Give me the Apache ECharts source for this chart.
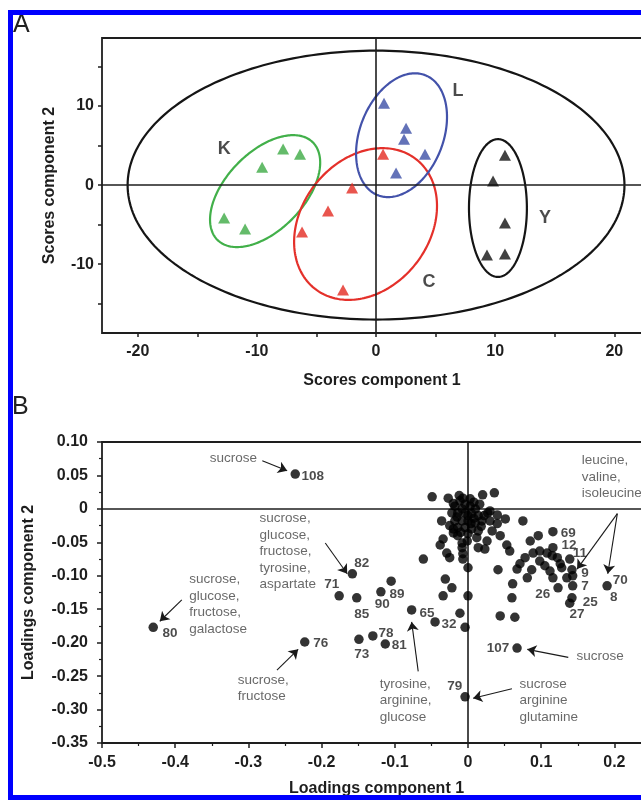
<!DOCTYPE html>
<html>
<head>
<meta charset="utf-8">
<script src="https://cdn.jsdelivr.net/npm/echarts@6/dist/echarts.min.js"></script>
<style>html,body{margin:0;padding:0;background:#fff}#c{width:641px;height:800px}</style>
</head>
<body>
<div id="c"></div>
<script>
// ---------- Panel A data (scores) ----------
const scoreTicksX = [-20, -15, -10, -5, 0, 5, 10, 15, 20];
const scoreLabelsX = [-20, -10, 0, 10, 20];
const scoreTicksY = [-15, -10, -5, 0, 5, 10, 15];
const scoreLabelsY = [-10, 0, 10];

const groupK = [[-7.80, 4.55], [-6.38, 3.91], [-9.56, 2.27], [-12.75, -4.17], [-10.99, -5.56]];
const groupC = [[0.59, 3.91], [-2.01, -0.38], [-4.03, -3.28], [-6.21, -5.93], [-2.77, -13.26]];
const groupL = [[0.67, 10.35], [2.52, 7.20], [2.35, 5.81], [4.11, 3.91], [1.68, 1.52]];
const groupY = [[10.82, 3.79], [9.82, 0.51], [10.82, -4.80], [9.31, -8.84], [10.82, -8.71]];

// confidence ellipses: centre and two conjugate semi-axis vectors (data units)
const ellipseAll = { c: [0, 0], u: [20.85, 0], v: [0, 17.0] };
const ellipseK = { c: [-9.31, -0.76], u: [3.98, 6.20], v: [2.35, -3.41] };
const ellipseC = { c: [-0.88, -4.92], u: [4.23, 8.21], v: [4.25, -4.96] };
const ellipseL = { c: [2.14, 6.31], u: [2.00, 7.58], v: [3.25, -1.95] };
const ellipseY = { c: [10.23, -2.90], u: [0, 8.71], v: [2.43, 0] };

const groupNames = ['K', 'L', 'C', 'Y'];
const groupNamePos = [[-12.75, 4.55], [6.88, 11.87], [4.45, -12.25], [14.18, -4.17]];

// ---------- Panel B data (loadings) ----------
const loadings = [
  [-0.236, 0.052], [-0.430, -0.177], [-0.223, -0.199], [-0.158, -0.097], [-0.176, -0.130],
  [-0.152, -0.133], [-0.119, -0.124], [-0.105, -0.108], [-0.149, -0.195], [-0.130, -0.190],
  [-0.113, -0.202], [-0.077, -0.151], [-0.045, -0.169], [-0.011, -0.156], [-0.004, -0.177],
  [-0.004, -0.281], [0.067, -0.208], [0.044, -0.160], [0.064, -0.162],
  [-0.049, 0.018], [-0.027, 0.016], [0.020, 0.021], [0.036, 0.024], [0.016, 0.007],
  [-0.036, -0.018], [0.051, -0.015], [0.075, -0.018], [0.040, -0.022], [0.033, -0.033],
  [0.044, -0.040], [-0.020, -0.036], [-0.014, -0.040], [0.000, -0.037], [0.012, -0.043],
  [-0.034, -0.045], [-0.038, -0.054], [-0.029, -0.066], [-0.025, -0.073], [-0.008, -0.058],
  [-0.007, -0.067], [0.014, -0.058], [0.023, -0.060], [0.053, -0.054], [0.057, -0.063],
  [-0.061, -0.075], [-0.007, -0.075], [0.000, -0.088], [0.041, -0.091], [0.085, -0.048],
  [0.096, -0.040], [0.116, -0.034], [0.089, -0.066], [0.098, -0.063], [0.108, -0.066],
  [0.116, -0.058], [0.115, -0.070], [0.122, -0.073], [0.126, -0.082], [0.139, -0.075],
  [0.078, -0.073], [0.071, -0.082], [0.067, -0.090], [0.087, -0.091], [0.081, -0.103],
  [0.098, -0.078], [0.105, -0.085], [0.112, -0.093], [0.116, -0.103], [0.128, -0.088],
  [0.142, -0.091], [0.135, -0.103], [0.143, -0.100], [0.143, -0.115], [0.123, -0.118],
  [0.061, -0.112], [0.060, -0.133], [-0.031, -0.105], [-0.022, -0.118], [-0.034, -0.130],
  [0.000, -0.130], [0.142, -0.133], [0.139, -0.141], [0.190, -0.115],
  [-0.018, 0.004], [-0.011, 0.012], [-0.004, 0.007], [0.003, 0.004], [0.010, 0.000],
  [-0.022, -0.006], [-0.014, -0.006], [-0.004, -0.006], [0.005, -0.007], [0.014, -0.010],
  [-0.018, -0.018], [-0.008, -0.018], [0.000, -0.018], [0.010, -0.021], [0.019, -0.018],
  [-0.014, -0.028], [-0.004, -0.028], [0.005, -0.030], [0.027, -0.006], [0.030, -0.018],
  [0.014, -0.033], [-0.025, -0.025], [-0.007, 0.016], [0.003, 0.015], [-0.001, -0.048],
  [-0.008, -0.051], [0.026, -0.048], [0.030, -0.003], [0.040, -0.009],
  [-0.020, 0.008], [-0.008, 0.000], [0.008, 0.010], [-0.015, -0.012], [0.000, -0.010],
  [0.008, -0.014], [-0.010, -0.035], [0.004, -0.022], [0.018, -0.026], [-0.020, -0.030],
  [0.022, -0.010], [-0.012, 0.020]
];
const pointNumbers = [
  ['108', -0.212, 0.049], ['80', -0.407, -0.186], ['76', -0.201, -0.201], ['82', -0.145, -0.082],
  ['71', -0.186, -0.112], ['85', -0.145, -0.157], ['90', -0.117, -0.142], ['89', -0.097, -0.127],
  ['73', -0.145, -0.217], ['78', -0.112, -0.186], ['81', -0.094, -0.204], ['65', -0.056, -0.156],
  ['32', -0.026, -0.172], ['79', -0.018, -0.265], ['107', 0.041, -0.208], ['69', 0.137, -0.037],
  ['12', 0.138, -0.055], ['11', 0.153, -0.067], ['9', 0.160, -0.097], ['7', 0.160, -0.115],
  ['25', 0.167, -0.139], ['27', 0.149, -0.157], ['26', 0.102, -0.127], ['70', 0.208, -0.106],
  ['8', 0.199, -0.132]
];
const annotations = [
  ['sucrose', -0.352, 0.076],
  ['sucrose,\nglucose,\nfructose,\ntyrosine,\naspartate', -0.284, -0.015],
  ['sucrose,\nglucose,\nfructose,\ngalactose', -0.380, -0.106],
  ['sucrose,\nfructose', -0.314, -0.256],
  ['tyrosine,\narginine,\nglucose', -0.120, -0.262],
  ['sucrose\narginine\nglutamine', 0.071, -0.262],
  ['sucrose', 0.149, -0.220],
  ['leucine,\nvaline,\nisoleucine', 0.156, 0.072]
];
const arrows = [
  [-0.281, 0.072, -0.247, 0.057],
  [-0.195, -0.051, -0.165, -0.097],
  [-0.391, -0.136, -0.421, -0.168],
  [-0.261, -0.241, -0.232, -0.210],
  [-0.068, -0.243, -0.077, -0.169],
  [0.060, -0.269, 0.007, -0.283],
  [0.137, -0.222, 0.081, -0.210],
  [0.204, -0.007, 0.149, -0.090],
  [0.204, -0.007, 0.191, -0.097]
];

// ---------- styles ----------
const FONT = '"Liberation Sans", Arial, Helvetica, sans-serif';
const INK = '#1e1e1e';
const colK = '#3daa45', colC = '#e42a22', colL = '#3c4fa6', colY = '#111111';
const ellipseList = [ellipseAll, ellipseK, ellipseC, ellipseL, ellipseY];
const ellipseColors = ['#151515', '#42b04a', '#e4302a', '#4352aa', '#151515'];

const chart = echarts.init(document.getElementById('c'), null, { renderer: 'canvas' });

const tickLabelStyle = { color: INK, fontWeight: 'bold', fontSize: 16, fontFamily: FONT };
const nameStyle = { color: INK, fontWeight: 'bold', fontSize: 16, fontFamily: FONT };

function triSeries(data, color) {
  return {
    type: 'scatter', xAxisIndex: 0, yAxisIndex: 0, data: data,
    symbol: 'triangle', symbolSize: [12, 11], itemStyle: { color: color }, z: 5, silent: true
  };
}

const zeroLine = {
  silent: true, symbol: 'none', label: { show: false }, animation: false,
  lineStyle: { color: INK, type: 'solid', width: 1.6 },
  data: [{ xAxis: 0 }, { yAxis: 0 }]
};

const option = {
  animation: false,
  backgroundColor: '#fff',
  grid: [
    { left: 102, top: 38, width: 560, height: 295, show: true, borderColor: INK, borderWidth: 1.8,
      backgroundColor: 'transparent', containLabel: false, outerBoundsMode: 'none' },
    { left: 102, top: 442, width: 549, height: 301, show: true, borderColor: INK, borderWidth: 1.8,
      backgroundColor: 'transparent', containLabel: false, outerBoundsMode: 'none' }
  ],
  xAxis: [
    {
      gridIndex: 0, type: 'value', min: -23, max: 24, position: 'bottom',
      axisLine: { show: false, onZero: false },
      axisTick: { show: true, length: 4, customValues: scoreTicksX, lineStyle: { color: INK, width: 1.5 } },
      axisLabel: { customValues: scoreLabelsX, margin: 11, ...tickLabelStyle },
      splitLine: { show: false },
      name: 'Scores component 1', nameLocation: 'middle', nameGap: 40, nameTextStyle: nameStyle
    },
    {
      gridIndex: 1, type: 'value', min: -0.5, max: 0.25, interval: 0.1, position: 'bottom',
      axisLine: { show: false, onZero: false },
      axisTick: { show: true, length: 5, lineStyle: { color: INK, width: 1.5 } },
      minorTick: { show: true, splitNumber: 2, length: 3, lineStyle: { color: INK, width: 1.2 } },
      axisLabel: {
        margin: 12, ...tickLabelStyle, showMaxLabel: false,
        formatter: v => Math.abs(v) < 1e-9 ? '0' : String(+v.toFixed(1))
      },
      splitLine: { show: false },
      name: 'Loadings component 1', nameLocation: 'middle', nameGap: 38, nameTextStyle: nameStyle
    }
  ],
  yAxis: [
    {
      gridIndex: 0, type: 'value', min: -18.7, max: 18.6, position: 'left',
      axisLine: { show: false, onZero: false },
      axisTick: { show: true, length: 4, customValues: scoreTicksY, lineStyle: { color: INK, width: 1.5 } },
      axisLabel: { customValues: scoreLabelsY, margin: 8, ...tickLabelStyle },
      splitLine: { show: false },
      name: 'Scores component 2', nameLocation: 'middle', nameGap: 44, nameTextStyle: nameStyle
    },
    {
      gridIndex: 1, type: 'value', min: -0.35, max: 0.10, interval: 0.05, position: 'left',
      axisLine: { show: false, onZero: false },
      axisTick: { show: true, length: 5, lineStyle: { color: INK, width: 1.5 } },
      minorTick: { show: true, splitNumber: 2, length: 3, lineStyle: { color: INK, width: 1.2 } },
      axisLabel: {
        margin: 14, ...tickLabelStyle,
        formatter: v => Math.abs(v) < 1e-9 ? '0' : v.toFixed(2)
      },
      splitLine: { show: false },
      name: 'Loadings component 2', nameLocation: 'middle', nameGap: 65, nameTextStyle: nameStyle
    }
  ],
  series: [
    { type: 'scatter', xAxisIndex: 0, yAxisIndex: 0, data: [], markLine: zeroLine, z: 1 },
    {
      type: 'custom', xAxisIndex: 0, yAxisIndex: 0, z: 3, silent: true,
      data: ellipseList.map(e => e.c),
      renderItem: (params, api) => {
        const e = ellipseList[params.dataIndex];
        const pts = [];
        for (let k = 0; k <= 240; k++) {
          const t = k / 240 * 2 * Math.PI;
          pts.push(api.coord([
            e.c[0] + Math.cos(t) * e.u[0] + Math.sin(t) * e.v[0],
            e.c[1] + Math.cos(t) * e.u[1] + Math.sin(t) * e.v[1]
          ]));
        }
        return {
          type: 'polyline', shape: { points: pts },
          style: { fill: null, stroke: ellipseColors[params.dataIndex], lineWidth: 2.2 }
        };
      }
    },
    triSeries(groupK, colK),
    triSeries(groupC, colC),
    triSeries(groupL, colL),
    triSeries(groupY, colY),
    {
      type: 'scatter', xAxisIndex: 0, yAxisIndex: 0, silent: true, z: 6,
      symbolSize: 1, itemStyle: { color: 'transparent' },
      data: groupNamePos.map((p, i) => ({ value: p, name: groupNames[i] })),
      label: {
        show: true, position: 'inside', formatter: '{b}',
        color: INK, fontWeight: 'bold', fontSize: 18, fontFamily: FONT
      }
    },
    { type: 'scatter', xAxisIndex: 1, yAxisIndex: 1, data: [], markLine: zeroLine, z: 1 },
    {
      type: 'scatter', xAxisIndex: 1, yAxisIndex: 1, data: loadings, silent: true, z: 5,
      symbol: 'circle', symbolSize: 9.5, itemStyle: { color: '#000' }
    },
    {
      type: 'lines', coordinateSystem: 'cartesian2d', xAxisIndex: 1, yAxisIndex: 1, silent: true, z: 6,
      symbol: ['none', 'arrow'], symbolSize: 9,
      lineStyle: { color: '#1a1a1a', width: 1.1, opacity: 1 },
      data: arrows.map(a => ({ coords: [[a[0], a[1]], [a[2], a[3]]] }))
    },
    {
      type: 'scatter', xAxisIndex: 1, yAxisIndex: 1, silent: true, z: 7,
      symbolSize: 1, itemStyle: { color: 'transparent' },
      data: pointNumbers.map(p => ({ value: [p[1], p[2]], name: p[0] })),
      label: {
        show: true, position: 'inside', formatter: '{b}',
        color: INK, fontWeight: 'bold', fontSize: 13.5, fontFamily: FONT
      }
    },
    {
      type: 'scatter', xAxisIndex: 1, yAxisIndex: 1, silent: true, z: 7,
      symbolSize: 1, itemStyle: { color: 'transparent' },
      data: annotations.map(p => ({ value: [p[1], p[2]], name: p[0] })),
      label: {
        show: true, position: [0, 0], offset: [0, -8], align: 'left', verticalAlign: 'top',
        formatter: '{b}', color: '#444', fontSize: 13.5, lineHeight: 16.5, fontFamily: FONT
      }
    }
  ],
  graphic: [
    { type: 'text', left: 13, top: 13, z: 50, style: { text: 'A', fontSize: 25, fontFamily: FONT, fill: '#222' } },
    { type: 'text', left: 12, top: 395, z: 50, style: { text: 'B', fontSize: 25, fontFamily: FONT, fill: '#222' } },
    { type: 'rect', z: 100, shape: { x: 8, y: 10, width: 633, height: 5 }, style: { fill: '#0000fe' } },
    { type: 'rect', z: 100, shape: { x: 8, y: 10, width: 5, height: 790 }, style: { fill: '#0000fe' } },
    { type: 'rect', z: 100, shape: { x: 8, y: 795, width: 633, height: 5 }, style: { fill: '#0000fe' } }
  ]
};
chart.setOption(option);
</script>
</body>
</html>
